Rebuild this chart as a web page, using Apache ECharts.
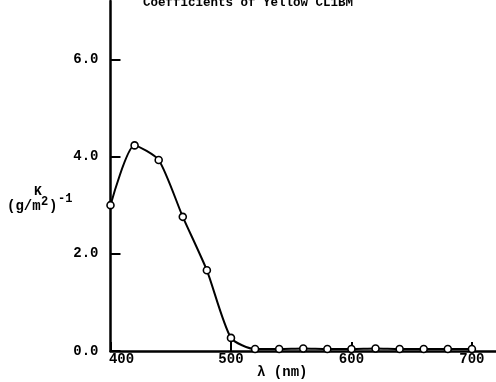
<!DOCTYPE html>
<html><head><meta charset="utf-8">
<script src="https://cdn.jsdelivr.net/npm/echarts@6/dist/echarts.min.js"></script>
<style>html,body{margin:0;padding:0;background:#fff}#c{width:496px;height:382px}</style>
</head><body><div id="c"></div>
<script>
const wavelengths = [400,420,440,460,480,500,520,540,560,580,600,620,640,660,680,700];
const kValues     = [3.0,4.23,3.93,2.76,1.66,0.27,0.04,0.04,0.05,0.04,0.04,0.05,0.04,0.04,0.04,0.04];
const xTicks = [400,500,600,700];
const yTicks = [0,2,4,6];
const titleText = 'Coefficients of Yellow CL1BM';
const FONT = '"Liberation Mono", "DejaVu Sans Mono", monospace';
const chart = echarts.init(document.getElementById('c'));
chart.setOption({
  animation:false,
  backgroundColor:'#fff',
  title:{text:titleText,left:'center',top:-9,textStyle:{fontFamily:FONT,fontWeight:'bold',fontSize:12.5,color:'#000'}},
  grid:{left:110.5,top:1,width:385.5,bottom:31,containLabel:false,outerBoundsMode:'none'},
  xAxis:{type:'value',min:400,max:720,interval:100,
    axisLine:{lineStyle:{color:'#000',width:2.5}},
    axisTick:{show:true,inside:true,length:9,lineStyle:{color:'#000',width:2}},
    splitLine:{show:false},
    axisLabel:{margin:1,fontFamily:FONT,fontWeight:'bold',fontSize:14,color:'#000',
      showMaxLabel:false,
      formatter:v=> v===400 ? '{a|400}' : String(v),
      rich:{a:{padding:[0,0,0,22],fontFamily:FONT,fontWeight:'bold',fontSize:14,color:'#000'}}},
    name:'λ (nm)',nameLocation:'middle',nameGap:14,nameMoveOverlap:false,
    nameTextStyle:{fontFamily:FONT,fontWeight:'bold',fontSize:14,color:'#000',padding:[0,42,0,0]}
  },
  yAxis:{type:'value',min:0,max:7.2,interval:2,
    axisLine:{show:true,lineStyle:{color:'#000',width:2.5}},
    axisTick:{show:true,inside:true,length:10,lineStyle:{color:'#000',width:2}},
    splitLine:{show:false},
    axisLabel:{margin:12,fontFamily:FONT,fontWeight:'bold',fontSize:14,color:'#000',
      showMaxLabel:false,formatter:v=>v.toFixed(1)}
  },
  graphic:[
    {type:'text',left:34,top:185,style:{text:'K',font:'bold 13px '+FONT,fill:'#000'}},
    {type:'text',left:7,top:199,style:{text:'(g/m',font:'bold 14px '+FONT,fill:'#000'}},
    {type:'text',left:41,top:196,style:{text:'2',font:'bold 12px '+FONT,fill:'#000'}},
    {type:'text',left:49,top:199,style:{text:')',font:'bold 14px '+FONT,fill:'#000'}},
    {type:'text',left:58,top:193,style:{text:'-1',font:'bold 12px '+FONT,fill:'#000'}}
  ],
  series:[{type:'line',data:wavelengths.map((w,i)=>[w,kValues[i]]),
    smooth:0.22,symbol:'circle',symbolSize:7,showSymbol:true,
    lineStyle:{color:'#000',width:2},
    itemStyle:{color:'#fff',borderColor:'#000',borderWidth:1.6}}]
});
</script></body></html>
